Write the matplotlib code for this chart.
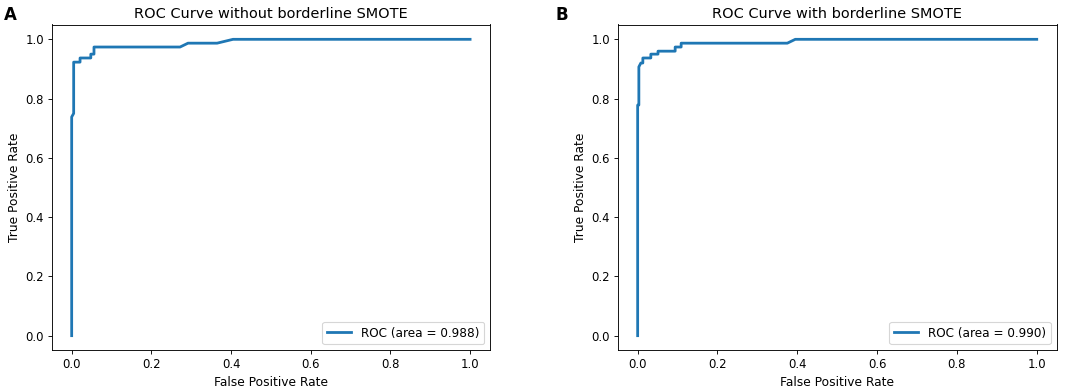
import matplotlib
matplotlib.use("Agg")
import matplotlib.pyplot as plt

# Panel A: ROC without borderline SMOTE
fpr_a = [0.0, 0.0, 0.005, 0.005, 0.021, 0.021, 0.048, 0.048, 0.056, 0.056,
         0.272, 0.292, 0.365, 0.405, 1.0]
tpr_a = [0.0, 0.738, 0.75, 0.923, 0.923, 0.937, 0.937, 0.950, 0.950, 0.974,
         0.974, 0.987, 0.987, 1.0, 1.0]
auc_a = 0.988

# Panel B: ROC with borderline SMOTE
fpr_b = [0.0, 0.0, 0.003, 0.003, 0.008, 0.013, 0.013, 0.033, 0.033, 0.051, 0.051,
         0.094, 0.094, 0.109, 0.109, 0.375, 0.395, 1.0]
tpr_b = [0.0, 0.778, 0.778, 0.907, 0.92, 0.92, 0.937, 0.937, 0.950, 0.950, 0.96,
         0.96, 0.974, 0.974, 0.987, 0.987, 1.0, 1.0]
auc_b = 0.990

titles = ["ROC Curve without borderline SMOTE", "ROC Curve with borderline SMOTE"]
letters = ["A", "B"]

DPI = 80
fig = plt.figure(figsize=(1065 / DPI, 392 / DPI), dpi=DPI)
positions = [[0.0486, 0.1059, 0.4115, 0.8316], [0.580, 0.1059, 0.4122, 0.8316]]
letter_x = [0.004, 0.522]

for pos, fpr, tpr, auc, title, letter, lx in zip(positions, [fpr_a, fpr_b], [tpr_a, tpr_b],
                                                 [auc_a, auc_b], titles, letters, letter_x):
    ax = fig.add_axes(pos)
    ax.plot(fpr, tpr, color="#1f77b4", lw=2.5, label="ROC (area = %0.3f)" % auc)
    ax.set_xlim(-0.05, 1.05)
    ax.set_ylim(-0.05, 1.05)
    ax.set_xlabel("False Positive Rate", fontsize=11)
    ax.set_ylabel("True Positive Rate", fontsize=11)
    ax.set_title(title, fontsize=13)
    ax.tick_params(labelsize=10.5)
    ax.legend(loc="lower right", fontsize=10.8)
    fig.text(lx, 0.985, letter, fontsize=15, fontweight="bold", va="top", ha="left")

fig.savefig("out.png", dpi=DPI)
